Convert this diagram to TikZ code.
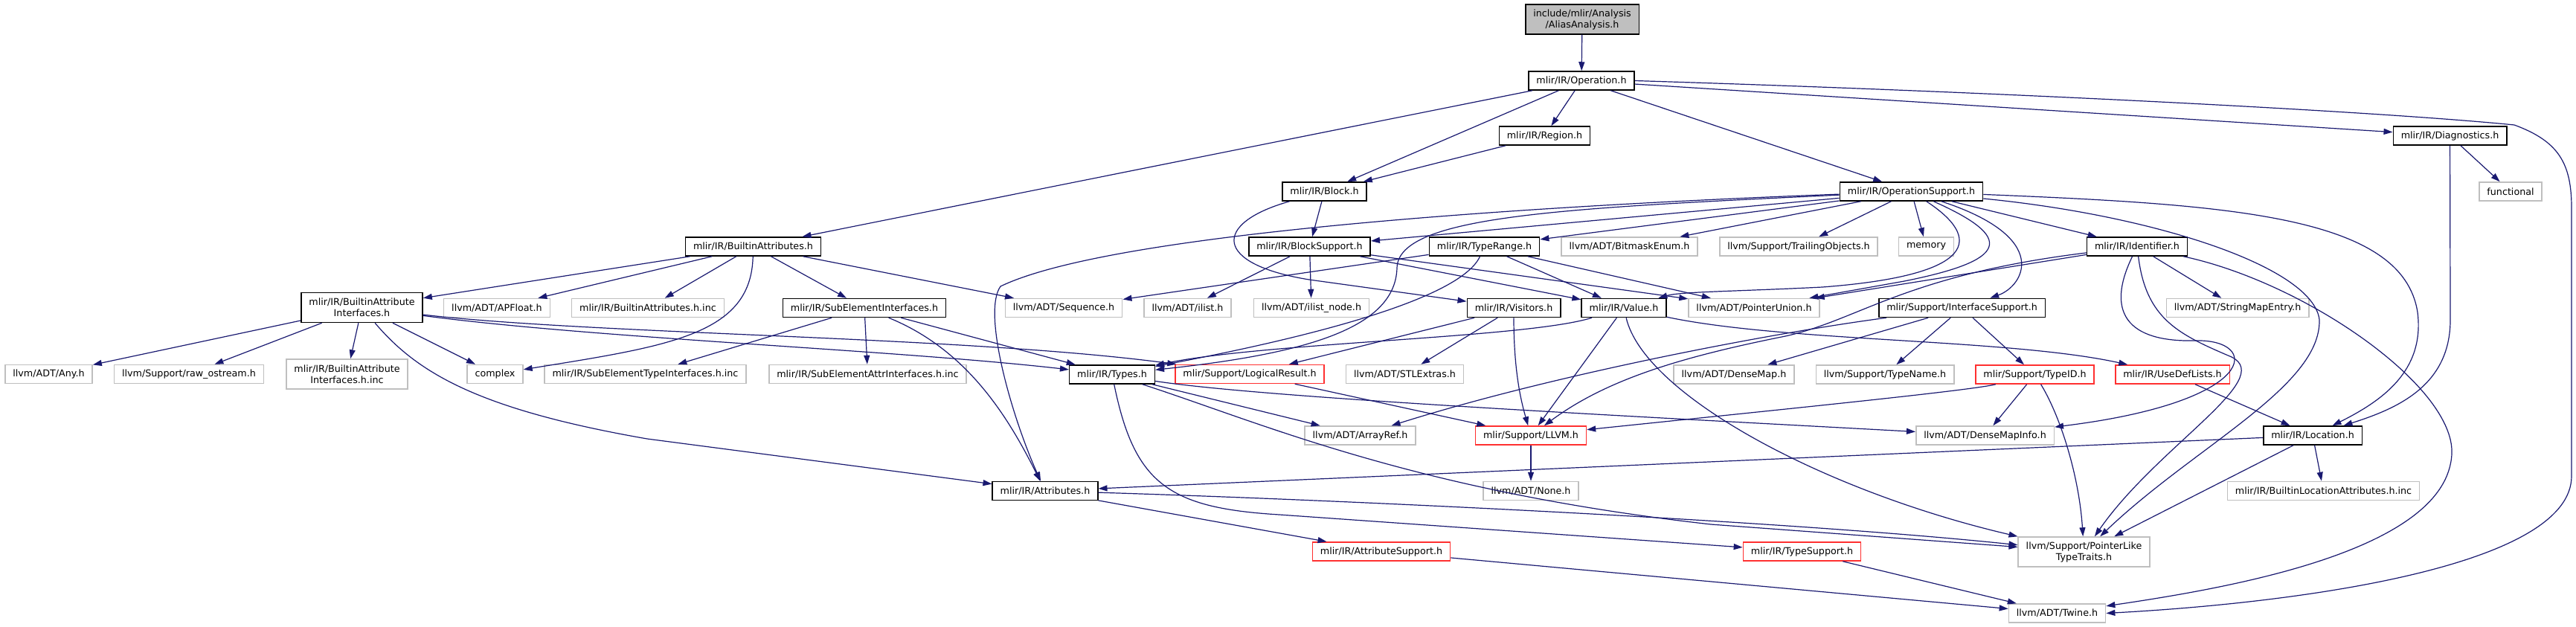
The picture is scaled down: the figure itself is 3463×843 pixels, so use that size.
\documentclass[tikz,border=0pt]{standalone}
\usepackage{fontspec}
\setmainfont{DejaVu Sans}
\usepackage{xcolor}
\usepackage{tikz}
\usetikzlibrary{arrows.meta}
\definecolor{edgeblue}{HTML}{191970}
\definecolor{extgray}{HTML}{BFBFBF}
\definecolor{truncred}{HTML}{FF3030}

\begin{document}
\begin{tikzpicture}[
    x=1pt, y=-1pt,
    hdr/.style={rectangle, align=center, minimum height=25pt, inner xsep=10.5pt, inner ysep=2pt, line width=1.5pt, fill=white, font=\fontsize{12.7pt}{15pt}\selectfont},
    incbox/.style={hdr, draw=black},
    extbox/.style={hdr, draw=extgray},
    redbox/.style={hdr, draw=truncred},
    rootbox/.style={hdr, draw=black, fill=extgray},
    twoline/.style={minimum height=40pt},
    arrow/.style={-{Triangle[length=12pt, width=8pt]}, line width=1.2pt, draw=edgeblue}
  ]
    \useasboundingbox (0,0) rectangle (3463,843);

    \node[rootbox, twoline] (aa) at (2127,26) {include/mlir/Analysis\\/AliasAnalysis.h};
    \node[incbox] (op) at (2126,108.5) {mlir/IR/Operation.h};
    \node[incbox] (region) at (2076.5,182.5) {mlir/IR/Region.h};
    \node[incbox] (diag) at (3293.5,182.5) {mlir/IR/Diagnostics.h};
    \node[incbox] (block) at (1780.5,257.5) {mlir/IR/Block.h};
    \node[incbox] (opsup) at (2569.5,257.5) {mlir/IR/OperationSupport.h};
    \node[extbox] (functional) at (3375,257.5) {functional};

    \node[incbox] (battr) at (1012.5,331.5) {mlir/IR/BuiltinAttributes.h};
    \node[incbox] (blocksup) at (1760.5,331.5) {mlir/IR/BlockSupport.h};
    \node[incbox] (typerange) at (1995.5,331.5) {mlir/IR/TypeRange.h};
    \node[extbox] (bitmask) at (2190.5,331.5) {llvm/ADT/BitmaskEnum.h};
    \node[extbox] (trailing) at (2418,331.5) {llvm/Support/TrailingObjects.h};
    \node[extbox] (memory) at (2589.5,331.5) {memory};
    \node[incbox] (ident) at (2873,331.5) {mlir/IR/Identifier.h};

    \node[incbox, twoline] (bai) at (486.5,413.5) {mlir/IR/BuiltinAttribute\\Interfaces.h};
    \node[extbox] (apfloat) at (668,414) {llvm/ADT/APFloat.h};
    \node[extbox] (battrinc) at (871,414) {mlir/IR/BuiltinAttributes.h.inc};
    \node[incbox] (subel) at (1162,414) {mlir/IR/SubElementInterfaces.h};
    \node[extbox] (sequence) at (1430,414) {llvm/ADT/Sequence.h};
    \node[extbox] (ilist) at (1596.5,414) {llvm/ADT/ilist.h};
    \node[extbox] (ilistnode) at (1763,414) {llvm/ADT/ilist\_node.h};
    \node[incbox] (visitors) at (2035,414) {mlir/IR/Visitors.h};
    \node[incbox] (value) at (2183,414) {mlir/IR/Value.h};
    \node[extbox] (ptrunion) at (2358,414) {llvm/ADT/PointerUnion.h};
    \node[incbox] (ifsup) at (2637.5,414) {mlir/Support/InterfaceSupport.h};
    \node[extbox] (stringmap) at (3008,414) {llvm/ADT/StringMapEntry.h};

    \node[extbox] (any) at (65.5,503) {llvm/ADT/Any.h};
    \node[extbox] (rawos) at (254,503) {llvm/Support/raw\_ostream.h};
    \node[extbox, twoline] (baiinc) at (466.5,503) {mlir/IR/BuiltinAttribute\\Interfaces.h.inc};
    \node[extbox] (complex) at (665.5,503) {complex};
    \node[extbox] (setinc) at (867.5,503) {mlir/IR/SubElementTypeInterfaces.h.inc};
    \node[extbox] (seainc) at (1166.5,503) {mlir/IR/SubElementAttrInterfaces.h.inc};
    \node[incbox] (types) at (1495,503.5) {mlir/IR/Types.h};
    \node[redbox] (logres) at (1680,503) {mlir/Support/LogicalResult.h};
    \node[extbox] (stlextras) at (1888.5,503) {llvm/ADT/STLExtras.h};
    \node[extbox] (densemap) at (2331,503.5) {llvm/ADT/DenseMap.h};
    \node[extbox] (typename) at (2534,503.5) {llvm/Support/TypeName.h};
    \node[redbox] (typeid) at (2735.5,503.5) {mlir/Support/TypeID.h};
    \node[redbox] (usedef) at (2920.5,503.5) {mlir/IR/UseDefLists.h};

    \node[extbox] (arrayref) at (1828.5,585.5) {llvm/ADT/ArrayRef.h};
    \node[redbox] (llvm) at (2058,585.5) {mlir/Support/LLVM.h};
    \node[extbox] (densemapinfo) at (2668.5,585.5) {llvm/ADT/DenseMapInfo.h};
    \node[incbox] (location) at (3109,585.5) {mlir/IR/Location.h};

    \node[incbox] (attrs) at (1405,660) {mlir/IR/Attributes.h};
    \node[extbox] (none) at (2058,660) {llvm/ADT/None.h};
    \node[extbox] (bllinc) at (3123.5,660) {mlir/IR/BuiltinLocationAttributes.h.inc};

    \node[redbox] (attrsup) at (1857,741.5) {mlir/IR/AttributeSupport.h};
    \node[redbox] (typesup) at (2422.5,741.5) {mlir/IR/TypeSupport.h};
    \node[extbox, twoline] (ptrlike) at (2801.5,742) {llvm/Support/PointerLike\\TypeTraits.h};

    \node[extbox] (twine) at (2765.5,824.5) {llvm/ADT/Twine.h};

    \draw[arrow] (aa) -- (op);
    \draw[arrow] (op) -- (battr);
    \draw[arrow] (op) -- (block);
    \draw[arrow] (op) -- (region);
    \draw[arrow] (op) -- (opsup);
    \draw[arrow] (op) -- (diag);
    \draw[arrow] (op.east) .. controls (2700,124) and (3200,150) .. (3380,168) .. controls (3440,190) and (3457,220) .. (3457,280) -- (3457,640) .. controls (3457,760) and (3100,810) .. (twine.east);
    \draw[arrow] (region) -- (block);
    \draw[arrow] (block) -- (blocksup);
    \draw[arrow] (block) .. controls (1630,300) and (1630,355) .. (1760,376) -- (visitors);
    \draw[arrow] (blocksup) -- (ilist);
    \draw[arrow] (blocksup) -- (ilistnode);
    \draw[arrow] (blocksup) -- (value);
    \draw[arrow] (blocksup) -- (ptrunion);
    \draw[arrow] (typerange) -- (sequence);
    \draw[arrow] (typerange) .. controls (1960,410) and (1700,465) .. (types);
    \draw[arrow] (typerange) -- (value);
    \draw[arrow] (typerange) -- (ptrunion);
    \draw[arrow] (opsup) -- (blocksup);
    \draw[arrow] (opsup) -- (typerange);
    \draw[arrow] (opsup) -- (bitmask);
    \draw[arrow] (opsup) -- (trailing);
    \draw[arrow] (opsup) -- (memory);
    \draw[arrow] (opsup) -- (ident);
    \draw[arrow] (opsup) .. controls (2760,320) and (2720,385) .. (ifsup);
    \draw[arrow] (opsup) .. controls (2665,320) and (2660,370) .. (2450,386) .. controls (2330,392) and (2260,392) .. (value);
    \draw[arrow] (opsup) .. controls (2710,320) and (2700,350) .. (2560,378) -- (ptrunion);
    \draw[arrow] (opsup) .. controls (2100,280) and (1880,290) .. (1878,360) .. controls (1876,440) and (1760,475) .. (types);
    \draw[arrow] (opsup) .. controls (2100,275) and (1500,310) .. (1345,385) .. controls (1320,420) and (1360,560) .. (attrs);
    \draw[arrow] (opsup) .. controls (3000,275) and (3230,290) .. (3250,420) .. controls (3260,500) and (3200,540) .. (location);
    \draw[arrow] (opsup) .. controls (2900,290) and (3110,360) .. (3118,430) .. controls (3120,520) and (2950,600) .. (ptrlike);
    \draw[arrow] (battr) -- (bai);
    \draw[arrow] (battr) -- (apfloat);
    \draw[arrow] (battr) -- (battrinc);
    \draw[arrow] (battr) .. controls (1010,450) and (900,465) .. (complex);
    \draw[arrow] (battr) -- (subel);
    \draw[arrow] (battr) -- (sequence);
    \draw[arrow] (bai) -- (any);
    \draw[arrow] (bai) -- (rawos);
    \draw[arrow] (bai) -- (baiinc);
    \draw[arrow] (bai) -- (complex);
    \draw[arrow] (bai) .. controls (560,500) and (640,550) .. (870,590) -- (attrs);
    \draw[arrow] (bai) .. controls (800,455) and (1200,470) .. (types);
    \draw[arrow] (bai) .. controls (800,450) and (1300,452) .. (logres);
    \draw[arrow] (subel) -- (setinc);
    \draw[arrow] (subel) -- (seainc);
    \draw[arrow] (subel) -- (types);
    \draw[arrow] (subel) .. controls (1300,470) and (1355,560) .. (attrs);
    \draw[arrow] (diag) -- (functional);
    \draw[arrow] (diag) -- (3294,430) .. controls (3294,520) and (3220,550) .. (location);
    \draw[arrow] (ident) -- (ptrunion);
    \draw[arrow] (ident) .. controls (2560,370) and (2500,430) .. (2400,452) .. controls (2260,480) and (2160,510) .. (llvm);
    \draw[arrow] (ident) -- (stringmap);
    \draw[arrow] (ident) .. controls (3100,380) and (3300,520) .. (3296,610) .. controls (3290,740) and (3000,790) .. (twine);
    \draw[arrow] (ident) .. controls (2830,420) and (2860,460) .. (2950,458) .. controls (3040,455) and (3040,540) .. (densemapinfo);
    \draw[arrow] (ident) .. controls (2885,430) and (2930,450) .. (3000,480) .. controls (3060,510) and (2900,600) .. (ptrlike);
    \draw[arrow] (ifsup) .. controls (2400,445) and (2100,500) .. (arrayref);
    \draw[arrow] (ifsup) -- (densemap);
    \draw[arrow] (ifsup) -- (typename);
    \draw[arrow] (ifsup) -- (typeid);
    \draw[arrow] (visitors) -- (logres);
    \draw[arrow] (visitors) -- (stlextras);
    \draw[arrow] (visitors) .. controls (2035,500) and (2045,540) .. (llvm);
    \draw[arrow] (value) .. controls (2050,455) and (1700,460) .. (types);
    \draw[arrow] (value) .. controls (2400,460) and (2700,455) .. (usedef);
    \draw[arrow] (value) -- (llvm);
    \draw[arrow] (value) .. controls (2210,530) and (2450,660) .. (ptrlike);
    \draw[arrow] (types) .. controls (1525,650) and (1570,683) .. (1720,692) -- (typesup);
    \draw[arrow] (types) -- (arrayref);
    \draw[arrow] (types) .. controls (1700,535) and (2200,560) .. (densemapinfo);
    \draw[arrow] (types) .. controls (1700,570) and (1900,660) .. (2300,705) -- (ptrlike);
    \draw[arrow] (attrs) -- (attrsup);
    \draw[arrow] (attrs) .. controls (1800,672) and (2400,700) .. (ptrlike);
    \draw[arrow] (location) -- (attrs);
    \draw[arrow] (location) -- (bllinc);
    \draw[arrow] (location) -- (ptrlike);
    \draw[arrow] (typeid) .. controls (2650,525) and (2400,550) .. (llvm);
    \draw[arrow] (typeid) -- (densemapinfo);
    \draw[arrow] (typeid) .. controls (2770,560) and (2795,640) .. (ptrlike);
    \draw[arrow] (usedef) -- (location);
    \draw[arrow] (llvm) -- (none);
    \draw[arrow] (logres) -- (llvm);
    \draw[arrow] (attrsup) -- (twine);
    \draw[arrow] (typesup) -- (twine);
\end{tikzpicture}
\end{document}
